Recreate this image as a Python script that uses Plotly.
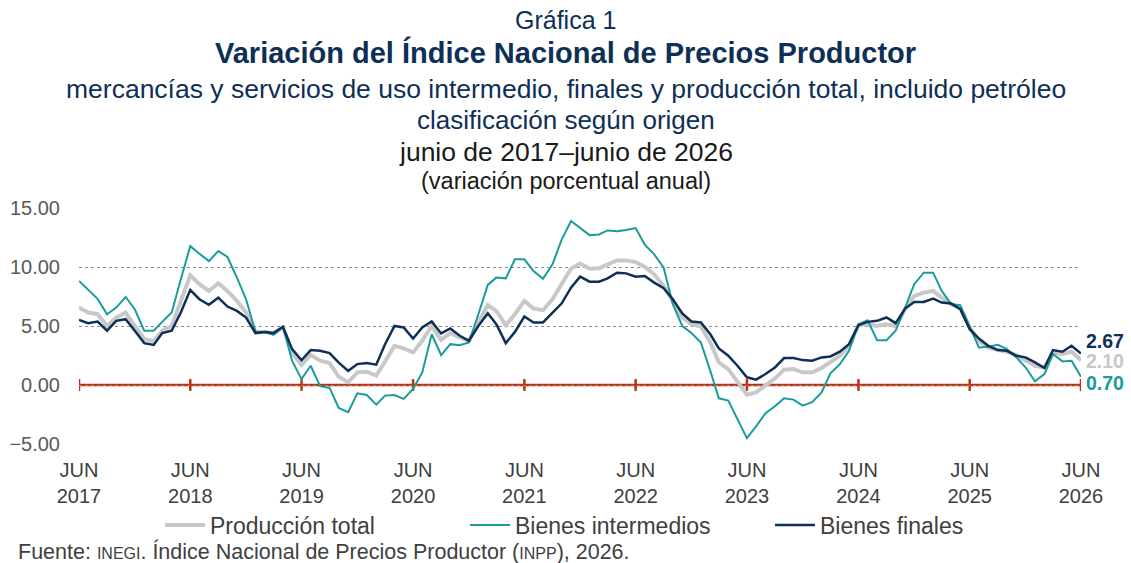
import pandas as pd
import plotly.graph_objects as go

months = pd.date_range("2017-06-01", "2026-06-01", freq="MS")

produccion_total = [
    6.56, 6.14, 6.0, 5.0, 5.7, 6.14, 5.0, 3.9, 3.7, 4.6, 5.0, 7.0,
    9.3, 8.54, 7.97, 8.62, 7.97, 7.13, 6.14, 4.5, 4.5, 4.4, 4.87, 2.76,
    1.7, 2.56, 2.06, 1.86, 0.7, 0.23, 1.07, 1.13, 0.8, 1.97, 3.32, 3.1,
    2.76, 3.75, 5.0, 3.83, 4.4, 4.03, 3.75, 5.3, 6.76, 6.28, 5.07, 6.0,
    7.13, 6.48, 6.34, 7.27, 8.54, 9.86, 10.3, 9.86, 9.9, 10.2, 10.56, 10.56,
    10.42, 10.0, 9.38, 8.4, 7.13, 5.72, 5.15, 4.96, 3.6, 1.92, 1.35, 0.28,
    -0.82, -0.62, -0.06, 0.56, 1.3, 1.35, 1.07, 1.07, 1.44, 1.97, 2.48, 3.32,
    5.07, 5.15, 5.0, 5.15, 5.0, 6.42, 7.55, 7.83, 7.97, 7.4, 6.85, 6.56,
    4.87, 3.75, 3.18, 2.96, 2.82, 2.54, 2.06, 1.63, 1.49, 2.7, 2.62, 2.82,
    2.10,
]

bienes_intermedios = [
    8.82, 8.1, 7.3, 6.0, 6.56, 7.46, 6.42, 4.6, 4.6, 5.35, 6.14, 8.96,
    11.77, 11.13, 10.5, 11.35, 10.85, 9.1, 7.27, 4.5, 4.5, 4.25, 4.93, 2.06,
    0.5, 1.63, -0.1, -0.25, -1.94, -2.3, -0.7, -0.85, -1.66, -0.9, -0.85, -1.18,
    -0.34, 1.07, 4.3, 2.54, 3.46, 3.38, 3.6, 6.0, 8.48, 9.1, 9.04, 10.65,
    10.65, 9.66, 9.0, 10.2, 12.3, 13.9, 13.3, 12.7, 12.76, 13.1, 13.04, 13.13,
    13.3, 11.9, 11.07, 9.94, 6.85, 5.0, 4.4, 3.6, 1.2, -1.13, -1.32, -2.87,
    -4.5, -3.5, -2.4, -1.8, -1.13, -1.24, -1.75, -1.46, -0.62, 0.99, 1.77, 2.9,
    5.15, 5.49, 3.8, 3.8, 4.6, 6.56, 8.54, 9.52, 9.52, 7.97, 6.85, 6.76,
    5.0, 3.18, 3.24, 3.4, 3.04, 2.34, 1.5, 0.31, 0.93, 2.62, 2.0, 2.06,
    0.70,
]

bienes_finales = [
    5.52, 5.24, 5.38, 4.6, 5.44, 5.58, 4.6, 3.55, 3.4, 4.4, 4.6, 6.14,
    8.06, 7.27, 6.8, 7.4, 6.65, 6.28, 5.72, 4.4, 4.5, 4.4, 4.93, 3.04,
    2.1, 2.96, 2.9, 2.7, 1.9, 1.2, 1.77, 1.86, 1.72, 3.46, 5.0, 4.87,
    3.94, 4.87, 5.38, 4.37, 4.79, 4.17, 3.75, 5.0, 6.08, 5.15, 3.55, 4.5,
    5.8, 5.3, 5.3, 6.08, 6.9, 8.25, 9.18, 8.76, 8.76, 9.04, 9.52, 9.46,
    9.18, 9.24, 8.68, 8.2, 7.27, 6.06, 5.38, 5.3, 4.3, 3.1, 2.48, 1.63,
    0.65, 0.45, 0.93, 1.49, 2.28, 2.28, 2.11, 2.06, 2.34, 2.42, 2.82, 3.46,
    5.07, 5.35, 5.44, 5.72, 5.24, 6.48, 7.04, 7.04, 7.32, 6.99, 6.9, 6.42,
    4.73, 3.94, 3.32, 2.96, 2.9, 2.48, 2.34, 1.92, 1.44, 2.96, 2.82, 3.32,
    2.67,
]

tick_dates = pd.date_range("2017-06-01", "2026-06-01", freq="12MS")
tick_labels = [f"JUN<br>{d.year}" for d in tick_dates]
y_ticks = [-5, 0, 5, 10, 15]

C_GRAY = "#c8c8c8"
C_TEAL = "#1a9c9a"
C_NAVY = "#0e2f56"
C_RED = "#c0300c"
C_TITLE = "#0e2f56"
FONT = "Liberation Sans, Arial, sans-serif"

W, H = 1131, 563
L, R, T, B = 79, 50, 208, 119
PW, PH = W - L - R, H - T - B


def px_to_paper_x(px):
    return (px - L) / PW


def px_to_paper_y(py):
    return (H - B - py) / PH


fig = go.Figure()
fig.add_trace(go.Scatter(x=months, y=produccion_total, name="Producción total",
                         mode="lines", line=dict(color=C_GRAY, width=4)))
fig.add_trace(go.Scatter(x=months, y=bienes_intermedios, name="Bienes intermedios",
                         mode="lines", line=dict(color=C_TEAL, width=2)))
fig.add_trace(go.Scatter(x=months, y=bienes_finales, name="Bienes finales",
                         mode="lines", line=dict(color=C_NAVY, width=2.5)))

# zero line with yearly tick marks
fig.add_shape(type="line", xref="x", yref="y", x0=months[0], x1=months[-1], y0=0, y1=0,
              line=dict(color=C_RED, width=2.5), layer="below")
for d in tick_dates:
    fig.add_shape(type="line", xref="x", yref="y", x0=d, x1=d, y0=-0.5, y1=0.5,
                  line=dict(color=C_RED, width=2.5), layer="below")

# end labels
for vals, col, ysh in [(bienes_finales, C_NAVY, 12), (produccion_total, C_GRAY, -1),
                       (bienes_intermedios, C_TEAL, -6)]:
    fig.add_annotation(x=months[-1], y=vals[-1], xref="x", yref="y", text=f"<b>{vals[-1]:.2f}</b>",
                       showarrow=False, xanchor="left", xshift=3, yshift=ysh,
                       font=dict(family=FONT, size=19.5, color=col))

titles = [
    ("Gráfica 1", 25, C_TITLE, False, 20),
    ("Variación del Índice Nacional de Precios Productor", 29, C_TITLE, True, 52),
    ("mercancías y servicios de uso intermedio, finales y producción total, incluido petróleo", 26.5, C_TITLE, False, 89),
    ("clasificación según origen", 26, C_TITLE, False, 120),
    ("junio de 2017–junio de 2026", 26.5, "#1a1a1a", False, 152),
    ("(variación porcentual anual)", 23.5, "#1a1a1a", False, 181),
]
for txt, sz, col, bold, ypx in titles:
    fig.add_annotation(x=px_to_paper_x(W / 2), y=px_to_paper_y(ypx), xref="paper", yref="paper",
                       text=f"<b>{txt}</b>" if bold else txt, showarrow=False,
                       xanchor="center", yanchor="middle", font=dict(family=FONT, size=sz, color=col))

fig.add_annotation(x=px_to_paper_x(16), y=px_to_paper_y(551), xref="paper", yref="paper",
                   text="Fuente: <span style='font-size:16px'>INEGI</span>. Índice Nacional de Precios Productor (<span style='font-size:16px'>INPP</span>), 2026.",
                   showarrow=False, xanchor="left", yanchor="middle",
                   font=dict(family=FONT, size=21.5, color="#404040"))

fig.update_layout(
    width=W, height=H,
    margin=dict(l=L, r=R, t=T, b=B, autoexpand=False),
    paper_bgcolor="white", plot_bgcolor="white",
    font=dict(family=FONT, color="#404040"),
    showlegend=True,
    legend=dict(orientation="h", x=px_to_paper_x(160), xanchor="left", y=px_to_paper_y(525), yanchor="middle",
                entrywidth=250, entrywidthmode="pixels",
                font=dict(family=FONT, size=23, color="#404040"), itemwidth=40),
    xaxis=dict(range=[months[0], months[-1]], tickvals=list(tick_dates), ticktext=tick_labels,
               showgrid=False, zeroline=False, showline=False, automargin=False,
               ticks="outside", ticklen=8, tickcolor="rgba(0,0,0,0)",
               tickfont=dict(family=FONT, size=20, color="#404040")),
    yaxis=dict(range=[-5, 15], tickvals=y_ticks, tickformat=".2f", automargin=False,
               showgrid=True, gridcolor="#8c8c8c", griddash="dot", gridwidth=1,
               zeroline=False, showline=False, ticks="outside", ticklen=14,
               tickcolor="rgba(0,0,0,0)",
               tickfont=dict(family=FONT, size=20, color="#595959")),
)

fig.write_html("out.html", config={"displayModeBar": False},
               post_script="document.body.style.margin='0px';")
